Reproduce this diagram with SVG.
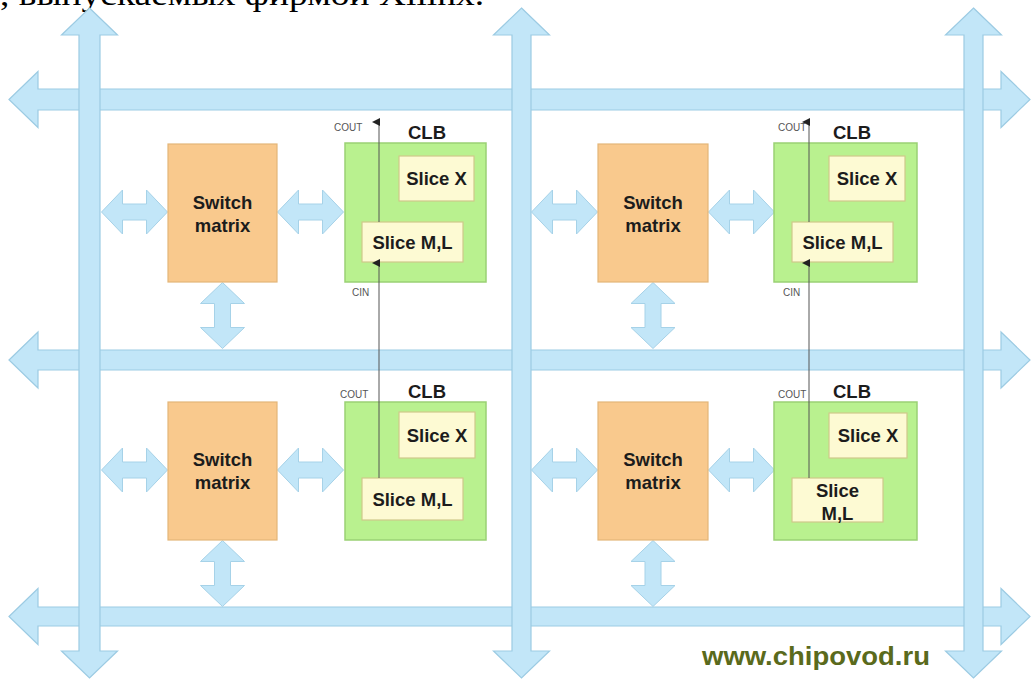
<svg xmlns="http://www.w3.org/2000/svg" width="1033" height="686" viewBox="0 0 1033 686">
<style>
.bus{fill:#c2e6f8;stroke:#9ccbe3;stroke-width:1.2}
.da{fill:#c2e6f8;stroke:#a6d2e8;stroke-width:1}
.sw{fill:#f9c98d;stroke:#e3b679;stroke-width:1.2}
.clb{fill:#b9f18f;stroke:#9ad174;stroke-width:1.5}
.sl{fill:#fdfad3;stroke:#cfc98a;stroke-width:1.2}
.t{font-family:"Liberation Sans",Arial,sans-serif;font-weight:bold;font-size:18.5px;fill:#1c1c1c;text-anchor:middle}
.s{font-family:"Liberation Sans",Arial,sans-serif;font-size:10px;fill:#555}
.ln{stroke:#555;stroke-width:1;fill:none}
</style>
<defs>
<marker id="ah" markerWidth="8" markerHeight="8" refX="4" refY="7" orient="auto-start-reverse" markerUnits="userSpaceOnUse">
<path d="M0,8 L4,0 L8,8 Z" fill="#222"/>
</marker>
<path id="dbl" d="M-33,0 L-12,-22 L-12,-8 L12,-8 L12,-22 L33,0 L12,22 L12,8 L-12,8 L-12,22 Z"/>
</defs>
<rect width="1033" height="686" fill="#ffffff"/>
<text x="0" y="5" font-family="Liberation Serif,serif" font-size="32" fill="#000" textLength="484" lengthAdjust="spacingAndGlyphs">, выпускаемых фирмой Xilinx.</text>
<g id="buses">
<path class="bus" d="M9,99.5 L38,71.5 L38,89 L1001,89 L1001,71.5 L1030,99.5 L1001,127.5 L1001,110 L38,110 L38,127.5 Z"/>
<path class="bus" d="M9,360 L38,332 L38,350 L1001,350 L1001,332 L1030,360 L1001,388 L1001,370 L38,370 L38,388 Z"/>
<path class="bus" d="M9,616.5 L38,588.5 L38,607 L1001,607 L1001,588.5 L1030,616.5 L1001,644.5 L1001,626 L38,626 L38,644.5 Z"/>
<path class="bus" d="M89.5,8 L117.5,35 L100,35 L100,651 L117.5,651 L89.5,678 L61.5,651 L79,651 L79,35 L61.5,35 Z"/>
<path class="bus" d="M521.5,8 L549.5,35 L531,35 L531,651 L549.5,651 L521.5,678 L493.5,651 L512,651 L512,35 L493.5,35 Z"/>
<path class="bus" d="M973.5,8 L1001.5,35 L983,35 L983,651 L1001.5,651 L973.5,678 L945.5,651 L964,651 L964,35 L945.5,35 Z"/>
</g>
<g id="connectors">
<use href="#dbl" class="da" transform="translate(134.5,212)"/>
<use href="#dbl" class="da" transform="translate(310.5,212)"/>
<use href="#dbl" class="da" transform="translate(564.5,212)"/>
<use href="#dbl" class="da" transform="translate(741.5,212)"/>
<use href="#dbl" class="da" transform="translate(134.5,470)"/>
<use href="#dbl" class="da" transform="translate(310.5,470)"/>
<use href="#dbl" class="da" transform="translate(564.5,470)"/>
<use href="#dbl" class="da" transform="translate(741.5,470)"/>
<use href="#dbl" class="da" transform="translate(222.5,315.5) rotate(90)"/>
<use href="#dbl" class="da" transform="translate(653,315.5) rotate(90)"/>
<use href="#dbl" class="da" transform="translate(222.5,573.5) rotate(90)"/>
<use href="#dbl" class="da" transform="translate(653,573.5) rotate(90)"/>
</g>
<g id="sm-tl"><rect class="sw" x="168" y="144" width="109" height="138"/><text class="t" x="222.5" y="209">Switch</text><text class="t" x="222.5" y="232">matrix</text></g>
<g id="sm-tr"><rect class="sw" x="598" y="144" width="110" height="138"/><text class="t" x="653" y="209">Switch</text><text class="t" x="653" y="232">matrix</text></g>
<g id="sm-bl"><rect class="sw" x="168" y="402" width="109" height="138"/><text class="t" x="222.5" y="466">Switch</text><text class="t" x="222.5" y="489">matrix</text></g>
<g id="sm-br"><rect class="sw" x="598" y="402" width="110" height="138"/><text class="t" x="653" y="466">Switch</text><text class="t" x="653" y="489">matrix</text></g>
<g id="clb-tl">
<rect class="clb" x="345" y="143" width="141" height="139"/>
<text class="t" x="427" y="139">CLB</text>
<rect class="sl" x="399" y="156" width="75" height="45"/><text class="t" x="436.5" y="185">Slice X</text>
<rect class="sl" x="362" y="222" width="101" height="40"/><text class="t" x="412.5" y="249">Slice M,L</text>
</g>
<g id="clb-tr">
<rect class="clb" x="774" y="143" width="143" height="139"/>
<text class="t" x="852" y="139">CLB</text>
<rect class="sl" x="829" y="156" width="76" height="45"/><text class="t" x="867" y="185">Slice X</text>
<rect class="sl" x="792" y="222" width="101" height="40"/><text class="t" x="842.5" y="249">Slice M,L</text>
</g>
<g id="clb-bl">
<rect class="clb" x="345" y="402" width="141" height="138"/>
<text class="t" x="427" y="398">CLB</text>
<rect class="sl" x="399" y="412" width="76" height="46"/><text class="t" x="437" y="442">Slice X</text>
<rect class="sl" x="362" y="478" width="101" height="42"/><text class="t" x="412.5" y="506">Slice M,L</text>
</g>
<g id="clb-br">
<rect class="clb" x="774" y="402" width="143" height="138"/>
<text class="t" x="852" y="398">CLB</text>
<rect class="sl" x="829" y="413" width="78" height="45"/><text class="t" x="868" y="442">Slice X</text>
<rect class="sl" x="792" y="478" width="91" height="44"/><text class="t" x="837.5" y="497">Slice</text><text class="t" x="837.5" y="520">M,L</text>
</g>
<g id="carry">
<line class="ln" x1="379" y1="222" x2="379" y2="122" marker-end="url(#ah)"/>
<line class="ln" x1="379" y1="478" x2="379" y2="263" marker-end="url(#ah)"/>
<line class="ln" x1="809" y1="222" x2="809" y2="122" marker-end="url(#ah)"/>
<line class="ln" x1="809" y1="478" x2="809" y2="263" marker-end="url(#ah)"/>
<text class="s" x="334" y="131">COUT</text>
<text class="s" x="352" y="296" font-size="8">CIN</text>
<text class="s" x="778" y="131">COUT</text>
<text class="s" x="783" y="296" font-size="8">CIN</text>
<text class="s" x="340" y="398">COUT</text>
<text class="s" x="778" y="398">COUT</text>
</g>
<text x="702" y="665" font-family="Liberation Sans,Arial,sans-serif" font-weight="bold" font-size="26" fill="#5a6a1c" textLength="228" lengthAdjust="spacingAndGlyphs">www.chipovod.ru</text>
</svg>
